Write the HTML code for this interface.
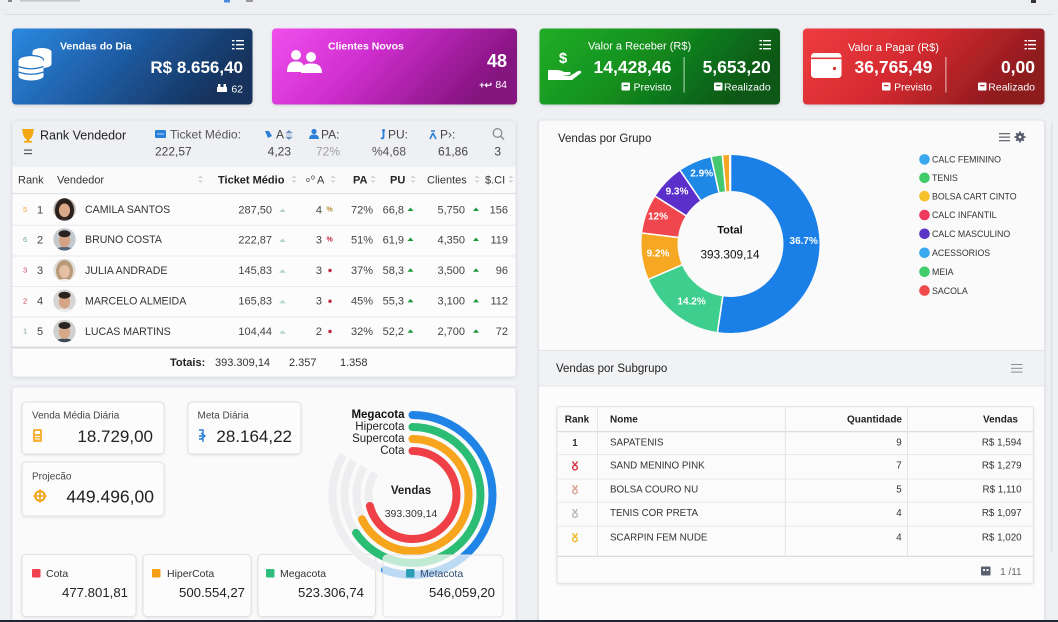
<!DOCTYPE html>
<html><head><meta charset="utf-8">
<style>
html,body{margin:0;padding:0;width:1058px;height:622px;overflow:hidden;background:#eef0f3}
svg{display:block}
text{font-family:"Liberation Sans",Arial,sans-serif}
.w{fill:#fff}
.n{font-size:11px;fill:#444}
.nm{font-size:10.6px;fill:#333}
.h{font-size:11px;fill:#333}
.hb{font-size:11px;fill:#222;font-weight:bold}
.st{fill:#cfd1d6}
.sg{font-size:9.8px;fill:#333}
.lg{font-size:8.8px;fill:#333}
</style></head><body>
<svg width="1058" height="622" viewBox="0 0 1058 622" xmlns="http://www.w3.org/2000/svg">
<defs>
<linearGradient id="g1" x1="0" y1="0" x2="1" y2="0.3"><stop offset="0" stop-color="#2b89e0"/><stop offset="0.45" stop-color="#2061ab"/><stop offset="1" stop-color="#15335d"/></linearGradient>
<linearGradient id="g2" x1="0" y1="0" x2="1" y2="0.3"><stop offset="0" stop-color="#f050ec"/><stop offset="0.45" stop-color="#cf2ece"/><stop offset="1" stop-color="#851480"/></linearGradient>
<linearGradient id="g3" x1="0" y1="0" x2="1" y2="0.3"><stop offset="0" stop-color="#22ad26"/><stop offset="0.45" stop-color="#14921f"/><stop offset="1" stop-color="#0b5818"/></linearGradient>
<linearGradient id="g4" x1="0" y1="0" x2="1" y2="0.3"><stop offset="0" stop-color="#ef3c40"/><stop offset="0.5" stop-color="#d42b30"/><stop offset="1" stop-color="#8d1a1e"/></linearGradient>
<filter id="sh" x="-5%" y="-10%" width="110%" height="130%"><feDropShadow dx="0" dy="1" stdDeviation="1.5" flood-color="#000" flood-opacity="0.15"/></filter>
<filter id="sh2" x="-5%" y="-10%" width="110%" height="130%"><feDropShadow dx="0" dy="1" stdDeviation="1.2" flood-color="#000" flood-opacity="0.09"/></filter>
<clipPath id="av"><circle cx="0" cy="0" r="11.3"/></clipPath>
</defs>

<!-- top bar -->
<rect x="0" y="0" width="1058" height="14" fill="#eceef1"/>
<rect x="5" y="14" width="1048" height="1" fill="#dcdde1"/>
<rect x="8" y="0" width="4" height="2" fill="#888"/><rect x="20" y="0" width="60" height="1.5" fill="#c5c7cc"/><rect x="224" y="0" width="6" height="2.5" fill="#4a8ad8"/><rect x="246" y="0" width="7" height="2" fill="#999"/>
<rect x="1031" y="0" width="5" height="3" fill="#333"/>

<!-- CARD 1 -->
<rect x="12" y="28.5" width="240.5" height="76" rx="4" fill="url(#g1)" filter="url(#sh)"/>
<g class="w">
<ellipse cx="42" cy="52" rx="9.5" ry="4"/><rect x="32.5" y="52" width="19" height="12"/><ellipse cx="42" cy="64" rx="9.5" ry="4"/>
<ellipse cx="31" cy="60" rx="12.5" ry="4.5" stroke="#2272c4" stroke-width="1.2"/>
<rect x="18.5" y="60" width="25" height="16"/><ellipse cx="31" cy="76" rx="12.5" ry="4.5"/>
</g>
<path d="M18.5 66.5 Q31 71 43.5 66.5 M18.5 72 Q31 76.5 43.5 72" stroke="#2272c4" stroke-width="1.3" fill="none"/>
<text x="60" y="49.4" font-size="10.5" font-weight="bold" class="w">Vendas do Dia</text>
<g fill="#fff"><rect x="236" y="40" width="8" height="1.4"/><rect x="236" y="44" width="8" height="1.4"/><rect x="236" y="48" width="8" height="1.4"/><rect x="232" y="40" width="2.5" height="1.4"/><rect x="232" y="44" width="2.5" height="1.4"/><rect x="232" y="48" width="2.5" height="1.4"/></g>
<text x="243" y="73.1" font-size="17" font-weight="bold" text-anchor="end" class="w">R$ 8.656,40</text>
<g fill="#fff"><rect x="217" y="87" width="10" height="5"/><rect x="218" y="84" width="2.5" height="3"/><rect x="223.5" y="84" width="2.5" height="3"/></g>
<text x="243" y="92.4" font-size="10.5" text-anchor="end" class="w">62</text>

<!-- CARD 2 -->
<rect x="272" y="28.5" width="245" height="76" rx="4" fill="url(#g2)" filter="url(#sh)"/>
<g class="w">
<circle cx="296" cy="55" r="5"/><path d="M287 72 Q287 61 296 61.5 Q305 61 305 72 Z"/>
<circle cx="311" cy="57" r="5"/><path d="M301 73 Q301 63 311 63.5 Q322 63 322 73 Z"/>
</g>
<text x="328" y="49.4" font-size="10.5" font-weight="bold" class="w">Clientes Novos</text>
<text x="507" y="67" font-size="18" font-weight="bold" text-anchor="end" class="w">48</text>
<text x="492" y="87.8" font-size="9" font-weight="bold" text-anchor="end" class="w">+↩</text>
<text x="507" y="87.8" font-size="10.5" text-anchor="end" class="w">84</text>

<!-- CARD 3 -->
<rect x="539.5" y="28.5" width="240.5" height="76" rx="4" fill="url(#g3)" filter="url(#sh)"/>
<text x="563" y="63" font-size="15" font-weight="bold" text-anchor="middle" class="w">$</text>
<path d="M548 70 L556 70 Q561 70 564 72 L570 72 Q572 74 569 75 L562 75 L570 76 L578 71 Q582 70 581 73 L572 80 L548 80 Z" fill="#fff"/>
<text x="588" y="49.5" font-size="11" class="w">Valor a Receber (R$)</text>
<g fill="#fff"><rect x="763" y="40" width="8" height="1.4"/><rect x="763" y="44" width="8" height="1.4"/><rect x="763" y="48" width="8" height="1.4"/><rect x="759.5" y="40" width="2.5" height="1.4"/><rect x="759.5" y="44" width="2.5" height="1.4"/><rect x="759.5" y="48" width="2.5" height="1.4"/></g>
<text x="671.4" y="73" font-size="17.5" font-weight="bold" text-anchor="end" class="w">14,428,46</text>
<rect x="683.5" y="57" width="1.2" height="35.5" fill="#fff" opacity="0.6"/>
<text x="770.7" y="73" font-size="17.5" font-weight="bold" text-anchor="end" class="w">5,653,20</text>
<rect x="621.5" y="82.5" width="8.5" height="8" rx="1" fill="#fff"/><rect x="623.5" y="85" width="4.5" height="1.2" fill="#177a22"/>
<text x="671.4" y="90.7" font-size="10.5" text-anchor="end" class="w">Previsto</text>
<rect x="714" y="82.5" width="8.5" height="8" rx="1" fill="#fff"/><rect x="716" y="85" width="4.5" height="1.2" fill="#0f6a1d"/>
<text x="770.7" y="90.7" font-size="10.5" text-anchor="end" class="w">Realizado</text>

<!-- CARD 4 -->
<rect x="803" y="28.5" width="241.5" height="76" rx="4" fill="url(#g4)" filter="url(#sh)"/>
<rect x="811" y="53" width="30.5" height="25" rx="3.5" fill="#fff"/>
<rect x="811" y="57.5" width="30.5" height="1.6" fill="#e23a3e"/>
<circle cx="834.5" cy="68.5" r="1.6" fill="#d93034"/>
<text x="848" y="51" font-size="11" class="w">Valor a Pagar (R$)</text>
<g fill="#fff"><rect x="1028" y="40" width="8" height="1.4"/><rect x="1028" y="44" width="8" height="1.4"/><rect x="1028" y="48" width="8" height="1.4"/><rect x="1024.5" y="40" width="2.5" height="1.4"/><rect x="1024.5" y="44" width="2.5" height="1.4"/><rect x="1024.5" y="48" width="2.5" height="1.4"/></g>
<text x="932.4" y="73" font-size="17.5" font-weight="bold" text-anchor="end" class="w">36,765,49</text>
<rect x="945.3" y="57" width="1.2" height="35.5" fill="#fff" opacity="0.6"/>
<text x="1035" y="73" font-size="17.5" font-weight="bold" text-anchor="end" class="w">0,00</text>
<rect x="882" y="82.5" width="8.5" height="8" rx="1" fill="#fff"/><rect x="884" y="85" width="4.5" height="1.2" fill="#c8282c"/>
<text x="932" y="90.7" font-size="10.5" text-anchor="end" class="w">Previsto</text>
<rect x="978" y="82.5" width="8.5" height="8" rx="1" fill="#fff"/><rect x="980" y="85" width="4.5" height="1.2" fill="#a82024"/>
<text x="1035" y="90.7" font-size="10.5" text-anchor="end" class="w">Realizado</text>

<!-- RANK PANEL -->
<rect x="12" y="120" width="504" height="257" rx="3" fill="#fcfcfd" stroke="#e2e3e7" filter="url(#sh2)"/>
<rect x="12.5" y="120.5" width="503" height="46.5" fill="#eff0f3"/>
<rect x="12.5" y="167" width="503" height="26.5" fill="#fafafb"/>
<rect x="12.5" y="193" width="503" height="1.2" fill="#e2e3e6"/>
<g fill="#e9e9ec"><rect x="12.5" y="224.8" width="503" height="1"/><rect x="12.5" y="255.5" width="503" height="1"/><rect x="12.5" y="286" width="503" height="1"/><rect x="12.5" y="316.6" width="503" height="1"/></g>
<rect x="12.5" y="346.5" width="503" height="2" fill="#d8d9dd"/>
<!-- header -->
<path d="M22 129 L34 129 L33 134 Q32 139 28 139.5 Q24 139 23 134 Z" fill="#f3a712"/><rect x="26.5" y="139" width="3" height="2.5" fill="#f3a712"/><rect x="24" y="141" width="8" height="1.6" fill="#f3a712"/>
<text x="40" y="139.5" font-size="12.5" fill="#222">Rank Vendedor</text>
<rect x="24" y="149.5" width="8" height="1.2" fill="#555"/><rect x="24" y="153" width="8" height="1.2" fill="#555"/>
<rect x="155" y="130" width="11" height="8" rx="1" fill="#2a7fd8"/><rect x="157" y="133.5" width="7" height="1" fill="#bcd8f5"/>
<text x="170" y="138.3" font-size="12" fill="#555">Ticket Médio:</text>
<text x="155" y="155.3" font-size="12" fill="#444">222,57</text>
<path d="M265 131 L269 131 L272 136 L268 138 Z" fill="#2a7fd8"/>
<text x="276" y="138.3" font-size="12" fill="#444">A</text>
<path d="M286 133 L289 130.5 L292 133 Z M286 135 L292 135 M286 137 L289 139.5 L292 137 Z" fill="#6b8fc0" stroke="#6b8fc0" stroke-width="0.6"/>
<text x="291" y="155.3" font-size="12" fill="#444" text-anchor="end">4,23</text>
<circle cx="314" cy="131.5" r="2.6" fill="#2a7fd8"/><path d="M309 139 Q309 134.5 314 134.5 Q319 134.5 319 139 Z" fill="#2a7fd8"/>
<text x="321" y="138.3" font-size="12" fill="#444">PA:</text>
<text x="340" y="155.3" font-size="12" fill="#a0a0a4" text-anchor="end">72%</text>
<path d="M383.5 130 L383.5 137 Q383.5 139 381 138" stroke="#2a7fd8" stroke-width="1.8" fill="none"/><circle cx="383.5" cy="130.5" r="1.5" fill="#2a7fd8"/>
<text x="388" y="138.3" font-size="12" fill="#444">PU:</text>
<text x="406" y="155.3" font-size="12" fill="#555" text-anchor="end">%4,68</text>
<path d="M431 131 L435 131 M433 133 L430 139 M433 133 L436 139" stroke="#2a7fd8" stroke-width="1.6" fill="none"/>
<text x="440" y="138.3" font-size="12" fill="#444">P›:</text>
<text x="468" y="155.3" font-size="12" fill="#444" text-anchor="end">61,86</text>
<circle cx="497.5" cy="133" r="4.3" fill="none" stroke="#8a8c92" stroke-width="1.3"/><path d="M500.5 136 L504 139.5" stroke="#8a8c92" stroke-width="1.5"/>
<text x="501" y="155.3" font-size="12" fill="#444" text-anchor="end">3</text>
<!-- table header -->
<text x="18" y="183.3" class="h">Rank</text>
<text x="57" y="183.3" class="h" fill="#444">Vendedor</text>
<g class="st">
<path d="M198 178 L200.5 175.5 L203 178 Z M198 180.5 L203 180.5 L200.5 183 Z"/>
<path d="M291.5 178 L294 175.5 L296.5 178 Z M291.5 180.5 L296.5 180.5 L294 183 Z"/>
<path d="M330.5 178 L333 175.5 L335.5 178 Z M330.5 180.5 L335.5 180.5 L333 183 Z"/>
<path d="M370.5 178 L373 175.5 L375.5 178 Z M370.5 180.5 L375.5 180.5 L373 183 Z"/>
<path d="M410.5 178 L413 175.5 L415.5 178 Z M410.5 180.5 L415.5 180.5 L413 183 Z"/>
<path d="M474.5 178 L477 175.5 L479.5 178 Z M474.5 180.5 L479.5 180.5 L477 183 Z"/>
<path d="M508.5 178 L511 175.5 L513.5 178 Z M508.5 180.5 L513.5 180.5 L511 183 Z"/>
</g>
<text x="218" y="183.3" class="hb">Ticket Médio</text>
<text x="306" y="182" font-size="7" fill="#333">o</text><text x="311" y="179.5" font-size="7" fill="#333">o</text><text x="317" y="183.3" class="h">A</text>
<text x="353" y="183.3" class="hb">PA</text>
<text x="390" y="183.3" class="hb">PU</text>
<text x="427" y="183.3" class="h" fill="#444">Clientes</text>
<text x="485" y="183.3" class="h">$.CI</text>

<!-- rows -->
<g>
<text x="23" y="212" font-size="7.5" fill="#f0a52a">5</text><text x="37" y="213.3" class="n">1</text>
<text x="23" y="242" font-size="7.5" fill="#6aaa88">6</text><text x="37" y="243.3" class="n">2</text>
<text x="23" y="272.7" font-size="7.5" fill="#c8456a">3</text><text x="37" y="274" class="n">3</text>
<text x="23" y="303.4" font-size="7.5" fill="#c83a4a">2</text><text x="37" y="304.7" class="n">4</text>
<text x="23" y="333.7" font-size="7.5" fill="#7aa088">1</text><text x="37" y="335" class="n">5</text>
</g>
<!-- avatars -->
<g transform="translate(64.5,209.3)" clip-path="url(#av)"><circle r="11.3" fill="#b9b2ac"/><ellipse cx="0" cy="1" rx="9.5" ry="12" fill="#2b211c"/><ellipse cx="0" cy="1" rx="5.6" ry="6.8" fill="#d9a98a"/><ellipse cx="0" cy="14" rx="10" ry="5" fill="#3a3030"/></g>
<g transform="translate(64.5,239.3)" clip-path="url(#av)"><circle r="11.3" fill="#c4c9ce"/><ellipse cx="0" cy="13" rx="10.5" ry="5.5" fill="#56667a"/><ellipse cx="0" cy="1" rx="5.6" ry="7" fill="#d4a386"/><ellipse cx="0" cy="-5.5" rx="6" ry="3.5" fill="#2a2220"/></g>
<g transform="translate(64.5,270)" clip-path="url(#av)"><circle r="11.3" fill="#e2dfdb"/><ellipse cx="0" cy="1" rx="8.5" ry="11" fill="#b99a78"/><ellipse cx="0" cy="1.5" rx="5.3" ry="6.5" fill="#e6c0a4"/><ellipse cx="0" cy="14" rx="10" ry="5" fill="#f2f2f2"/></g>
<g transform="translate(64.5,300.7)" clip-path="url(#av)"><circle r="11.3" fill="#d7d5d2"/><ellipse cx="0" cy="13" rx="10.5" ry="5.5" fill="#eaeaea"/><ellipse cx="0" cy="1" rx="5.6" ry="7" fill="#d6a487"/><ellipse cx="0" cy="-5.5" rx="6" ry="3.5" fill="#2b2320"/></g>
<g transform="translate(64.5,331)" clip-path="url(#av)"><circle r="11.3" fill="#cfd0cc"/><ellipse cx="0" cy="13" rx="10.5" ry="5.5" fill="#3e4a58"/><ellipse cx="0" cy="1" rx="5.6" ry="7" fill="#d8a88a"/><ellipse cx="0" cy="-5.5" rx="6" ry="3.5" fill="#2a2420"/></g>
<!-- names & values -->
<g class="nm">
<text x="85" y="213.2">CAMILA SANTOS</text>
<text x="85" y="243.2">BRUNO COSTA</text>
<text x="85" y="273.9">JULIA ANDRADE</text>
<text x="85" y="304.6">MARCELO ALMEIDA</text>
<text x="85" y="334.9">LUCAS MARTINS</text>
</g>
<g class="n" text-anchor="end">
<text x="272" y="213.3">287,50</text><text x="322" y="213.3">4</text><text x="373" y="213.3">72%</text><text x="404" y="213.3">66,8</text><text x="465" y="213.3">5,750</text><text x="508" y="213.3">156</text>
<text x="272" y="243.3">222,87</text><text x="322" y="243.3">3</text><text x="373" y="243.3">51%</text><text x="404" y="243.3">61,9</text><text x="465" y="243.3">4,350</text><text x="508" y="243.3">119</text>
<text x="272" y="274">145,83</text><text x="322" y="274">3</text><text x="373" y="274">37%</text><text x="404" y="274">58,3</text><text x="465" y="274">3,500</text><text x="508" y="274">96</text>
<text x="272" y="304.7">165,83</text><text x="322" y="304.7">3</text><text x="373" y="304.7">45%</text><text x="404" y="304.7">55,3</text><text x="465" y="304.7">3,100</text><text x="508" y="304.7">112</text>
<text x="272" y="335">104,44</text><text x="322" y="335">2</text><text x="373" y="335">32%</text><text x="404" y="335">52,2</text><text x="465" y="335">2,700</text><text x="508" y="335">72</text>
</g>
<!-- row icons -->
<g fill="#b8d6c6">
<path d="M279 212 L282.5 208.5 L286 212 Z"/><path d="M279 242 L282.5 238.5 L286 242 Z"/><path d="M279 272.7 L282.5 269.2 L286 272.7 Z"/><path d="M279 303.4 L282.5 299.9 L286 303.4 Z"/><path d="M279 333.7 L282.5 330.2 L286 333.7 Z"/>
</g>
<text x="326.5" y="211.5" font-size="7" fill="#b88a30" font-weight="bold">%</text>
<text x="326.5" y="241.5" font-size="7" fill="#c02838" font-weight="bold">%</text>
<circle cx="330" cy="270.5" r="1.7" fill="#c02840"/><circle cx="330" cy="301.2" r="1.7" fill="#c02840"/><circle cx="330" cy="331.5" r="1.7" fill="#c02840"/>
<g fill="#1a9a3a">
<path d="M407.5 211 L410.5 207.5 L413.5 211 Z"/><path d="M407.5 241 L410.5 237.5 L413.5 241 Z"/><path d="M407.5 271.7 L410.5 268.2 L413.5 271.7 Z"/><path d="M407.5 302.4 L410.5 298.9 L413.5 302.4 Z"/><path d="M407.5 332.7 L410.5 329.2 L413.5 332.7 Z"/>
<path d="M473 211 L476 207.5 L479 211 Z"/><path d="M473 241 L476 237.5 L479 241 Z"/><path d="M473 271.7 L476 268.2 L479 271.7 Z"/><path d="M473 302.4 L476 298.9 L479 302.4 Z"/><path d="M473 332.7 L476 329.2 L479 332.7 Z"/>
</g>
<!-- totals -->
<text x="170" y="366" class="hb">Totais:</text>
<text x="215" y="366" class="h">393.309,14</text>
<text x="289" y="366" class="h">2.357</text>
<text x="340" y="366" class="h">1.358</text>

<!-- BOTTOM LEFT PANEL -->
<rect x="12" y="387" width="504" height="245" rx="3" fill="#fafafb" stroke="#e3e4e7" filter="url(#sh2)"/>
<rect x="22" y="402" width="142" height="52" rx="4" fill="#fcfcfc" stroke="#e1e1e4" filter="url(#sh2)"/>
<text x="32" y="418.6" font-size="10" fill="#444">Venda Média Diária</text>
<rect x="33" y="429" width="9" height="13" rx="1.5" fill="#f4b43a"/><rect x="35" y="431" width="5" height="3" fill="#fff"/><rect x="35" y="436" width="5" height="1" fill="#fff"/><rect x="35" y="438.5" width="5" height="1" fill="#fff"/>
<text x="153" y="442.1" font-size="17" fill="#222" text-anchor="end">18.729,00</text>
<rect x="188" y="402" width="113" height="52" rx="4" fill="#fcfcfc" stroke="#e1e1e4" filter="url(#sh2)"/>
<text x="197.5" y="418.6" font-size="10" fill="#444">Meta Diária</text>
<path d="M199 430 L203 430 L203 436 L199 436 M201 433 L205 436 L201 439 M199 439 L203 439 L203 442" stroke="#2a7fd8" stroke-width="1.4" fill="none"/>
<text x="292" y="442.1" font-size="17" fill="#222" text-anchor="end">28.164,22</text>
<rect x="22" y="462" width="142" height="54" rx="4" fill="#fcfcfc" stroke="#e1e1e4" filter="url(#sh2)"/>
<text x="32" y="479.6" font-size="10" fill="#444">Projecão</text>
<circle cx="40" cy="496" r="4.8" fill="none" stroke="#f3a21c" stroke-width="2"/><path d="M40 489.5 V502.5 M33.5 496 H46.5" stroke="#f3a21c" stroke-width="1.6"/>
<text x="154" y="502.3" font-size="17.5" fill="#222" text-anchor="end">449.496,00</text>

<rect x="22" y="554.5" width="114" height="62" rx="4" fill="#fcfcfc" stroke="#e1e1e4" filter="url(#sh2)"/>
<rect x="32" y="569" width="8.5" height="8.5" rx="1" fill="#ef4050"/>
<text x="46" y="576.8" font-size="10.5" fill="#333">Cota</text>
<text x="128" y="596.8" font-size="13.2" fill="#222" text-anchor="end">477.801,81</text>
<rect x="143" y="554.5" width="108" height="62" rx="4" fill="#fcfcfc" stroke="#e1e1e4" filter="url(#sh2)"/>
<rect x="152" y="569" width="8.5" height="8.5" rx="1" fill="#f6a01a"/>
<text x="167" y="576.8" font-size="10.5" fill="#333">HiperCota</text>
<text x="245" y="596.8" font-size="13.2" fill="#222" text-anchor="end">500.554,27</text>
<rect x="258" y="554.5" width="117.5" height="62" rx="4" fill="#fcfcfc" stroke="#e1e1e4" filter="url(#sh2)"/>
<rect x="266" y="569" width="8.5" height="8.5" rx="1" fill="#2ebd7a"/>
<text x="280" y="576.8" font-size="10.5" fill="#333">Megacota</text>
<text x="364" y="596.8" font-size="13.2" fill="#222" text-anchor="end">523.306,74</text>

<!-- radial chart -->
<g transform="rotate(-90 412.5 495)" fill="none">
<circle cx="412.5" cy="495" r="80" stroke="#eeeef1" stroke-width="8" stroke-dasharray="139.6 502.65" stroke-dashoffset="-279.3"/>
<circle cx="412.5" cy="495" r="68" stroke="#eeeef1" stroke-width="8" stroke-dasharray="76 427.26" stroke-dashoffset="-280.1"/>
<circle cx="412.5" cy="495" r="56" stroke="#eeeef1" stroke-width="8" stroke-dasharray="54.7 351.86" stroke-dashoffset="-238.5"/>
<circle cx="412.5" cy="495" r="44" stroke="#eeeef1" stroke-width="8" stroke-dasharray="34.6 276.46" stroke-dashoffset="-195.8"/>
<circle cx="412.5" cy="495" r="80" stroke="#1f84e6" stroke-width="8" stroke-linecap="round" stroke-dasharray="279.3 600"/>
<circle cx="412.5" cy="495" r="68" stroke="#2cbd74" stroke-width="8" stroke-linecap="round" stroke-dasharray="280.1 600"/>
<circle cx="412.5" cy="495" r="56" stroke="#f7a51c" stroke-width="8" stroke-linecap="round" stroke-dasharray="238.5 600"/>
<circle cx="412.5" cy="495" r="44" stroke="#ef4048" stroke-width="8" stroke-linecap="round" stroke-dasharray="195.8 600"/>
</g>
<g font-size="11.5" fill="#222" text-anchor="end">
<text x="404.5" y="418" font-weight="bold" fill="#111">Megacota</text>
<text x="404.5" y="430">Hipercota</text>
<text x="404.5" y="442">Supercota</text>
<text x="404.5" y="454">Cota</text>
</g>
<text x="411" y="494" font-size="11.5" font-weight="bold" fill="#222" text-anchor="middle">Vendas</text>
<text x="411" y="516.8" font-size="10.5" fill="#333" text-anchor="middle">393.309,14</text>

<rect x="383" y="555" width="120" height="62" rx="4" fill="#fbfbfb" fill-opacity="0.72" stroke="#e1e1e4"/>
<rect x="406" y="569" width="8.5" height="8.5" rx="1" fill="#2a9fb5"/>
<text x="420" y="576.8" font-size="10.5" fill="#2f4a6e">Metacota</text>
<text x="495" y="596.8" font-size="13.2" fill="#222" text-anchor="end">546,059,20</text>

<!-- RIGHT PANEL -->
<rect x="538.5" y="120" width="506" height="510" rx="3" fill="#fafafb" stroke="#e2e3e7" filter="url(#sh2)"/>
<text x="558" y="142" font-size="11.5" fill="#222">Vendas por Grupo</text>
<g fill="#6a6c72"><rect x="999" y="133" width="11" height="1.3"/><rect x="999" y="136.5" width="11" height="1.3"/><rect x="999" y="140" width="11" height="1.3"/></g>
<circle cx="1020" cy="137" r="4" fill="#55596a"/>
<g stroke="#55596a" stroke-width="1.8"><path d="M1020 131.5 V142.5 M1014.5 137 H1025.5 M1016.2 133.2 L1023.8 140.8 M1023.8 133.2 L1016.2 140.8"/></g>
<circle cx="1020" cy="137" r="1.4" fill="#fafafb"/>

<!-- donut -->
<g transform="rotate(-90 730.5 244)" fill="none" stroke-width="36">
<circle cx="730.5" cy="244" r="71" stroke="#1a7fe6" stroke-dasharray="233.5 446.1"/>
<circle cx="730.5" cy="244" r="71" stroke="#3ecf8e" stroke-dasharray="72.2 446.1" stroke-dashoffset="-233.5"/>
<circle cx="730.5" cy="244" r="71" stroke="#f7a823" stroke-dasharray="37.7 446.1" stroke-dashoffset="-305.7"/>
<circle cx="730.5" cy="244" r="71" stroke="#f0474f" stroke-dasharray="31.4 446.1" stroke-dashoffset="-343.4"/>
<circle cx="730.5" cy="244" r="71" stroke="#5b2fc9" stroke-dasharray="28.7 446.1" stroke-dashoffset="-374.7"/>
<circle cx="730.5" cy="244" r="71" stroke="#1e88e5" stroke-dasharray="27 446.1" stroke-dashoffset="-403.5"/>
<circle cx="730.5" cy="244" r="71" stroke="#45c870" stroke-dasharray="9.2 446.1" stroke-dashoffset="-430.5"/>
<circle cx="730.5" cy="244" r="71" stroke="#f5a623" stroke-dasharray="5.8 446.1" stroke-dashoffset="-439.7"/>
</g>
<g stroke="#fff" stroke-width="1.6">
<path d="M730.5 191 L730.5 155"/>
<path d="M722.8 296.4 L717.5 332"/>
<path d="M681.8 265 L648.8 279.2"/>
<path d="M677.9 237.4 L642.2 233"/>
<path d="M685.8 215.6 L655.4 196.3"/>
<path d="M700.6 200.3 L680.2 170.6"/>
<path d="M718.9 192.3 L711.1 157.1"/>
<path d="M725.7 191.2 L722.4 155.4"/>
<path d="M730 191 L729.7 155"/>
</g>
<g font-size="10" font-weight="bold" fill="#fff" text-anchor="middle">
<text x="803.7" y="243.9">36.7%</text>
<text x="691.6" y="304.6">14.2%</text>
<text x="658" y="256.6">9.2%</text>
<text x="658" y="219.6">12%</text>
<text x="677" y="194.4">9.3%</text>
<text x="701.7" y="176.6">2.9%</text>
</g>
<text x="730" y="233.5" font-size="11" font-weight="bold" fill="#111" text-anchor="middle">Total</text>
<text x="730" y="258.3" font-size="11.8" fill="#111" text-anchor="middle">393.309,14</text>
<!-- legend -->
<circle cx="924.5" cy="159.4" r="5.3" fill="#3aa8ef"/><text x="932" y="162.6" class="lg">CALC FEMININO</text>
<circle cx="924.5" cy="177.8" r="5.3" fill="#40cc68"/><text x="932" y="181" class="lg">TENIS</text>
<circle cx="924.5" cy="196.2" r="5.3" fill="#f8c02c"/><text x="932" y="199.4" class="lg">BOLSA CART CINTO</text>
<circle cx="924.5" cy="215" r="5.3" fill="#ee3a5c"/><text x="932" y="218.2" class="lg">CALC INFANTIL</text>
<circle cx="924.5" cy="233.8" r="5.3" fill="#5b35c6"/><text x="932" y="237" class="lg">CALC MASCULINO</text>
<circle cx="924.5" cy="252.8" r="5.3" fill="#3aa8ef"/><text x="932" y="256" class="lg">ACESSORIOS</text>
<circle cx="924.5" cy="271.8" r="5.3" fill="#40cc68"/><text x="932" y="275" class="lg">MEIA</text>
<circle cx="924.5" cy="290.6" r="5.3" fill="#f04a4a"/><text x="932" y="293.8" class="lg">SACOLA</text>

<!-- subgroup header -->
<rect x="539" y="350" width="505" height="36" fill="#f1f2f4"/>
<rect x="539" y="350" width="505" height="1" fill="#e4e5e8"/>
<rect x="539" y="385.5" width="505" height="1" fill="#e6e7ea"/>
<text x="556" y="372.2" font-size="11.5" fill="#222">Vendas por Subgrupo</text>
<g fill="#8a8c92"><rect x="1011" y="364" width="11.5" height="1"/><rect x="1011" y="367.8" width="11.5" height="1"/><rect x="1011" y="371.6" width="11.5" height="1"/></g>
<rect x="539" y="386.5" width="505" height="240" fill="#fcfcfc"/>

<!-- subgroup table -->
<rect x="557" y="406.6" width="476.4" height="176.8" rx="2" fill="#fbfbfb" stroke="#e2e2e5" filter="url(#sh2)"/>
<g fill="#e9e9ec">
<rect x="557.5" y="431" width="475.5" height="1.2" fill="#dcdce0"/>
<rect x="557.5" y="454" width="475.5" height="1"/>
<rect x="557.5" y="478.5" width="475.5" height="1"/>
<rect x="557.5" y="501.8" width="475.5" height="1"/>
<rect x="557.5" y="525.6" width="475.5" height="1"/>
<rect x="557.5" y="555.8" width="475.5" height="1.2" fill="#dcdce0"/>
<rect x="597" y="407" width="1" height="149" fill="#e4e4e7"/>
<rect x="784.8" y="407" width="1" height="149" fill="#e4e4e7"/>
<rect x="907" y="407" width="1" height="149" fill="#e4e4e7"/>
</g>
<g font-size="10" font-weight="bold" fill="#222">
<text x="577" y="422.6" text-anchor="middle">Rank</text>
<text x="610" y="422.6">Nome</text>
<text x="902" y="422.6" text-anchor="end">Quantidade</text>
<text x="1018" y="422.6" text-anchor="end">Vendas</text>
</g>
<text x="575" y="445.8" class="sg" text-anchor="middle" font-weight="bold">1</text>
<g class="sg">
<text x="610" y="445.5">SAPATENIS</text>
<text x="610" y="468.7">SAND MENINO PINK</text>
<text x="610" y="492.5">BOLSA COURO NU</text>
<text x="610" y="516.2">TENIS COR PRETA</text>
<text x="610" y="540.5">SCARPIN FEM NUDE</text>
</g>
<g class="sg" text-anchor="end">
<text x="901.7" y="445.5">9</text><text x="1021.6" y="445.5">R$ 1,594</text>
<text x="901.7" y="468.7">7</text><text x="1021.6" y="468.7">R$ 1,279</text>
<text x="901.7" y="492.5">5</text><text x="1021.6" y="492.5">R$ 1,110</text>
<text x="901.7" y="516.2">4</text><text x="1021.6" y="516.2">R$ 1,097</text>
<text x="901.7" y="540.5">4</text><text x="1021.6" y="540.5">R$ 1,020</text>
</g>
<!-- medals -->
<g fill="none" stroke-width="1.4">
<path d="M572.5 461.5 L575 465 L577.5 461.5" stroke="#d63040"/><circle cx="575" cy="467.6" r="2.3" stroke="#d63040"/>
<path d="M572.5 485.3 L575 488.8 L577.5 485.3" stroke="#d8a090"/><circle cx="575" cy="491.4" r="2.3" stroke="#d8a090"/>
<path d="M572.5 509 L575 512.5 L577.5 509" stroke="#b8b8bc"/><circle cx="575" cy="515.1" r="2.3" stroke="#b8b8bc"/>
<path d="M572.5 533.3 L575 536.8 L577.5 533.3" stroke="#f0b820"/><circle cx="575" cy="539.4" r="2.3" stroke="#f0b820"/>
</g>
<rect x="981" y="566.5" width="9.5" height="9" rx="1" fill="#5a6070"/><rect x="983" y="569" width="2" height="2" fill="#fbfbfb"/><rect x="986.5" y="569" width="2" height="2" fill="#fbfbfb"/>
<text x="1021.6" y="575" font-size="10" fill="#666" text-anchor="end">1 /11</text>

<!-- scroll line -->
<rect x="1050.5" y="123" width="2.5" height="430" rx="1" fill="#e3e4e7"/>

<!-- bottom dark strip -->
<rect x="0" y="620" width="1058" height="2" fill="#1e2638"/>
</svg>
</body></html>
